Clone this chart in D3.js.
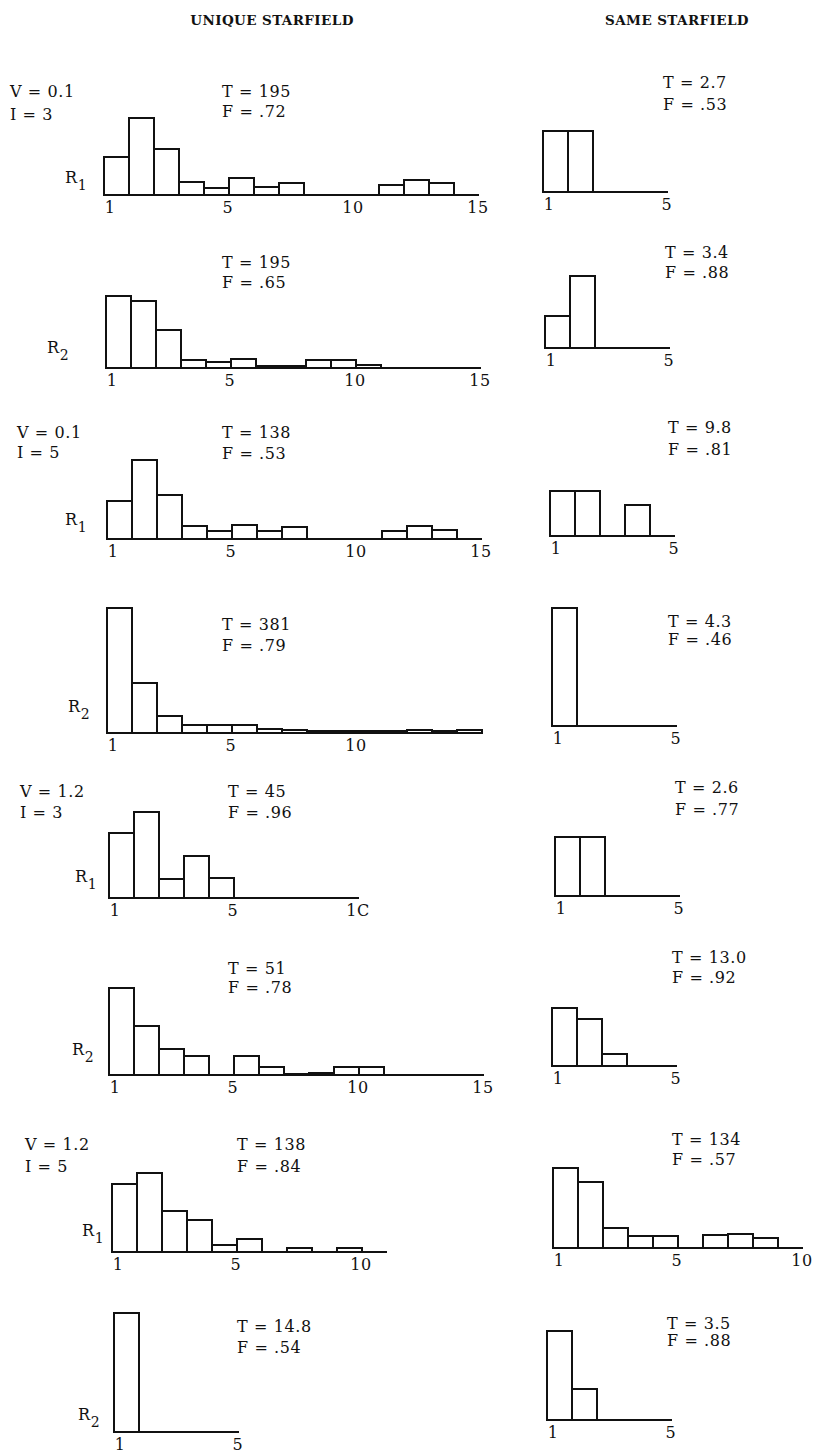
<!DOCTYPE html>
<html>
<head>
<meta charset="utf-8">
<script src="https://cdn.jsdelivr.net/npm/d3@7.9.0/dist/d3.min.js"></script>
<style>
  html, body { margin: 0; padding: 0; background: #fff; }
  svg text { font-family: "DejaVu Serif", "Liberation Serif", serif; font-size: 16px; fill: #111; letter-spacing: 0.6px; white-space: pre; }
  svg text.title { font-size: 13.5px; font-weight: bold; letter-spacing: 0.4px; }
  svg tspan.sub { font-size: 14px; }
</style>
</head>
<body>
<script>
// ----- Data: bin heights (arbitrary units) -----
// unique starfield
const u1R1 = [38, 77, 46, 13, 7, 17, 8, 12, 0, 0, 0, 10, 15, 12, 0];
const u1R2 = [72, 67, 38, 8, 6, 9, 2, 2, 8, 8, 3, 0, 0, 0, 0];
const u2R1 = [38, 79, 44, 13, 8, 14, 8, 12, 0, 0, 0, 8, 13, 9, 0];
const u2R2 = [125, 50, 17, 8, 8, 8, 4, 3, 2, 2, 2, 2, 3, 2, 3];
const u3R1 = [65, 86, 19, 42, 20, 0, 0, 0, 0, 0];
const u3R2 = [87, 49, 26, 19, 0, 19, 8, 1, 2, 8, 8, 0, 0, 0, 0];
const u4R1 = [68, 79, 41, 32, 7, 13, 0, 4, 0, 4, 0];
const u4R2 = [119, 0, 0, 0, 0];
// same starfield
const s1R1 = [61, 61, 0, 0, 0];
const s1R2 = [32, 72, 0, 0, 0];
const s2R1 = [45, 45, 0, 31, 0];
const s2R2 = [118, 0, 0, 0, 0];
const s3R1 = [59, 59, 0, 0, 0];
const s3R2 = [58, 47, 12, 0, 0];
const s4R1 = [80, 66, 20, 12, 12, 0, 13, 14, 10, 0];
const s4R2 = [89, 31, 0, 0, 0];

const uniqueT = ["195", "195", "138", "381", "45", "51", "138", "14.8"];
const uniqueF = [".72", ".65", ".53", ".79", ".96", ".78", ".84", ".54"];
const sameT = ["2.7", "3.4", "9.8", "4.3", "2.6", "13.0", "134", "3.5"];
const sameF = [".53", ".88", ".81", ".46", ".77", ".92", ".57", ".88"];
const conditions = [["V = 0.1", "I = 3"], ["V = 0.1", "I = 5"], ["V = 1.2", "I = 3"], ["V = 1.2", "I = 5"]];

const ticks15 = [1, 5, 10, 15];
const ticks10 = [1, 5, 10];
const ticks5 = [1, 5];
const tickText = { 1: "1", 5: "5", 10: "10", 15: "15" };
const tickText1C = { 1: "1", 5: "5", 10: "1C" };

const uniqueBars = [u1R1, u1R2, u2R1, u2R2, u3R1, u3R2, u4R1, u4R2];
const sameBars = [s1R1, s1R2, s2R1, s2R2, s3R1, s3R2, s4R1, s4R2];
const uniqueTicks = [ticks15, ticks15, ticks15, ticks10, ticks10, ticks15, ticks10, ticks5];
const sameTicks = [ticks5, ticks5, ticks5, ticks5, ticks5, ticks5, ticks10, ticks5];

// ----- Layout (page pixels) -----
const BIN = 25;
const leftLayout = [
  { left: 104, base: 195, span: 15, tx: 222, ty: 97, fy: 117, rx: 65, ry: 183 },
  { left: 106, base: 368, span: 15, tx: 222, ty: 268, fy: 288, rx: 47, ry: 353 },
  { left: 107, base: 539, span: 15, tx: 222, ty: 438, fy: 459, rx: 65, ry: 525 },
  { left: 107, base: 733, span: 15, tx: 222, ty: 630, fy: 651, rx: 68, ry: 712 },
  { left: 109, base: 898, span: 10, tx: 228, ty: 797, fy: 818, rx: 75, ry: 882 },
  { left: 109, base: 1075, span: 15, tx: 228, ty: 974, fy: 993, rx: 72, ry: 1055 },
  { left: 112, base: 1252, span: 11, tx: 237, ty: 1150, fy: 1172, rx: 82, ry: 1236 },
  { left: 114, base: 1432, span: 5, tx: 237, ty: 1332, fy: 1353, rx: 78, ry: 1420 }
];
const condLayout = [{ x: 10, y: 97, y2: 120 }, { x: 17, y: 438, y2: 458 }, { x: 20, y: 797, y2: 818 }, { x: 25, y: 1150, y2: 1172 }];
const rightLayout = [
  { left: 543, base: 192, span: 5, tx: 663, ty: 88, fy: 110 },
  { left: 545, base: 348, span: 5, tx: 665, ty: 258, fy: 278 },
  { left: 550, base: 536, span: 5, tx: 668, ty: 433, fy: 455 },
  { left: 552, base: 726, span: 5, tx: 668, ty: 627, fy: 645 },
  { left: 555, base: 896, span: 5, tx: 675, ty: 793, fy: 815 },
  { left: 552, base: 1066, span: 5, tx: 672, ty: 963, fy: 983 },
  { left: 553, base: 1248, span: 10, tx: 672, ty: 1145, fy: 1165 },
  { left: 547, base: 1420, span: 5, tx: 667, ty: 1329, fy: 1346 }
];

const svg = d3.select("body").append("svg")
  .attr("width", 814).attr("height", 1456);

// one unit of value = one pixel of bar height
const y = d3.scaleLinear().domain([0, 100]).range([0, 100]);

svg.append("text").attr("class", "title").attr("x", 272).attr("y", 25)
  .attr("text-anchor", "middle").text("UNIQUE STARFIELD");
svg.append("text").attr("class", "title").attr("x", 677).attr("y", 25)
  .attr("text-anchor", "middle").text("SAME STARFIELD");

function drawHist(values, lay, ticks, labels) {
  const g = svg.append("g");
  const x = d3.scaleLinear().domain([0, lay.span]).range([lay.left, lay.left + lay.span * BIN]);

  // baseline
  g.append("line")
    .attr("x1", x(0)).attr("x2", x(lay.span))
    .attr("y1", lay.base).attr("y2", lay.base)
    .attr("stroke", "#111").attr("stroke-width", 2);

  // bins
  g.selectAll("rect")
    .data(values.map((v, i) => ({ v, i })).filter(d => d.v > 0))
    .enter().append("rect")
    .attr("x", d => x(d.i))
    .attr("width", d => x(d.i + 1) - x(d.i))
    .attr("y", d => lay.base - y(d.v))
    .attr("height", d => y(d.v))
    .attr("fill", "none")
    .attr("stroke", "#111")
    .attr("stroke-width", 2);

  // tick labels ("1" typed at the left edge of the first bin)
  g.selectAll("text.tick")
    .data(ticks)
    .enter().append("text")
    .attr("class", "tick")
    .attr("x", d => d === 1 ? x(0.25) : x(d) - 1)
    .attr("y", lay.base + 18)
    .attr("text-anchor", "middle")
    .text(d => labels[d]);
  return g;
}

function drawStats(lay, t, f) {
  svg.append("text").attr("x", lay.tx).attr("y", lay.ty).text(`T = ${t}`);
  svg.append("text").attr("x", lay.tx).attr("y", lay.fy).text(`F = ${f}`);
}

uniqueBars.forEach((vals, i) => {
  const lay = leftLayout[i];
  drawHist(vals, lay, uniqueTicks[i], i === 4 ? tickText1C : tickText);
  drawStats(lay, uniqueT[i], uniqueF[i]);
  const r = svg.append("text").attr("x", lay.rx).attr("y", lay.ry);
  r.append("tspan").text("R");
  r.append("tspan").attr("class", "sub").attr("dy", 7).text(i % 2 === 0 ? "1" : "2");
});

conditions.forEach((c, i) => {
  const cl = condLayout[i];
  svg.append("text").attr("x", cl.x).attr("y", cl.y).text(c[0]);
  svg.append("text").attr("x", cl.x).attr("y", cl.y2).text(c[1]);
});

sameBars.forEach((vals, i) => {
  const lay = rightLayout[i];
  drawHist(vals, lay, sameTicks[i], tickText);
  drawStats(lay, sameT[i], sameF[i]);
});
</script>
</body>
</html>
